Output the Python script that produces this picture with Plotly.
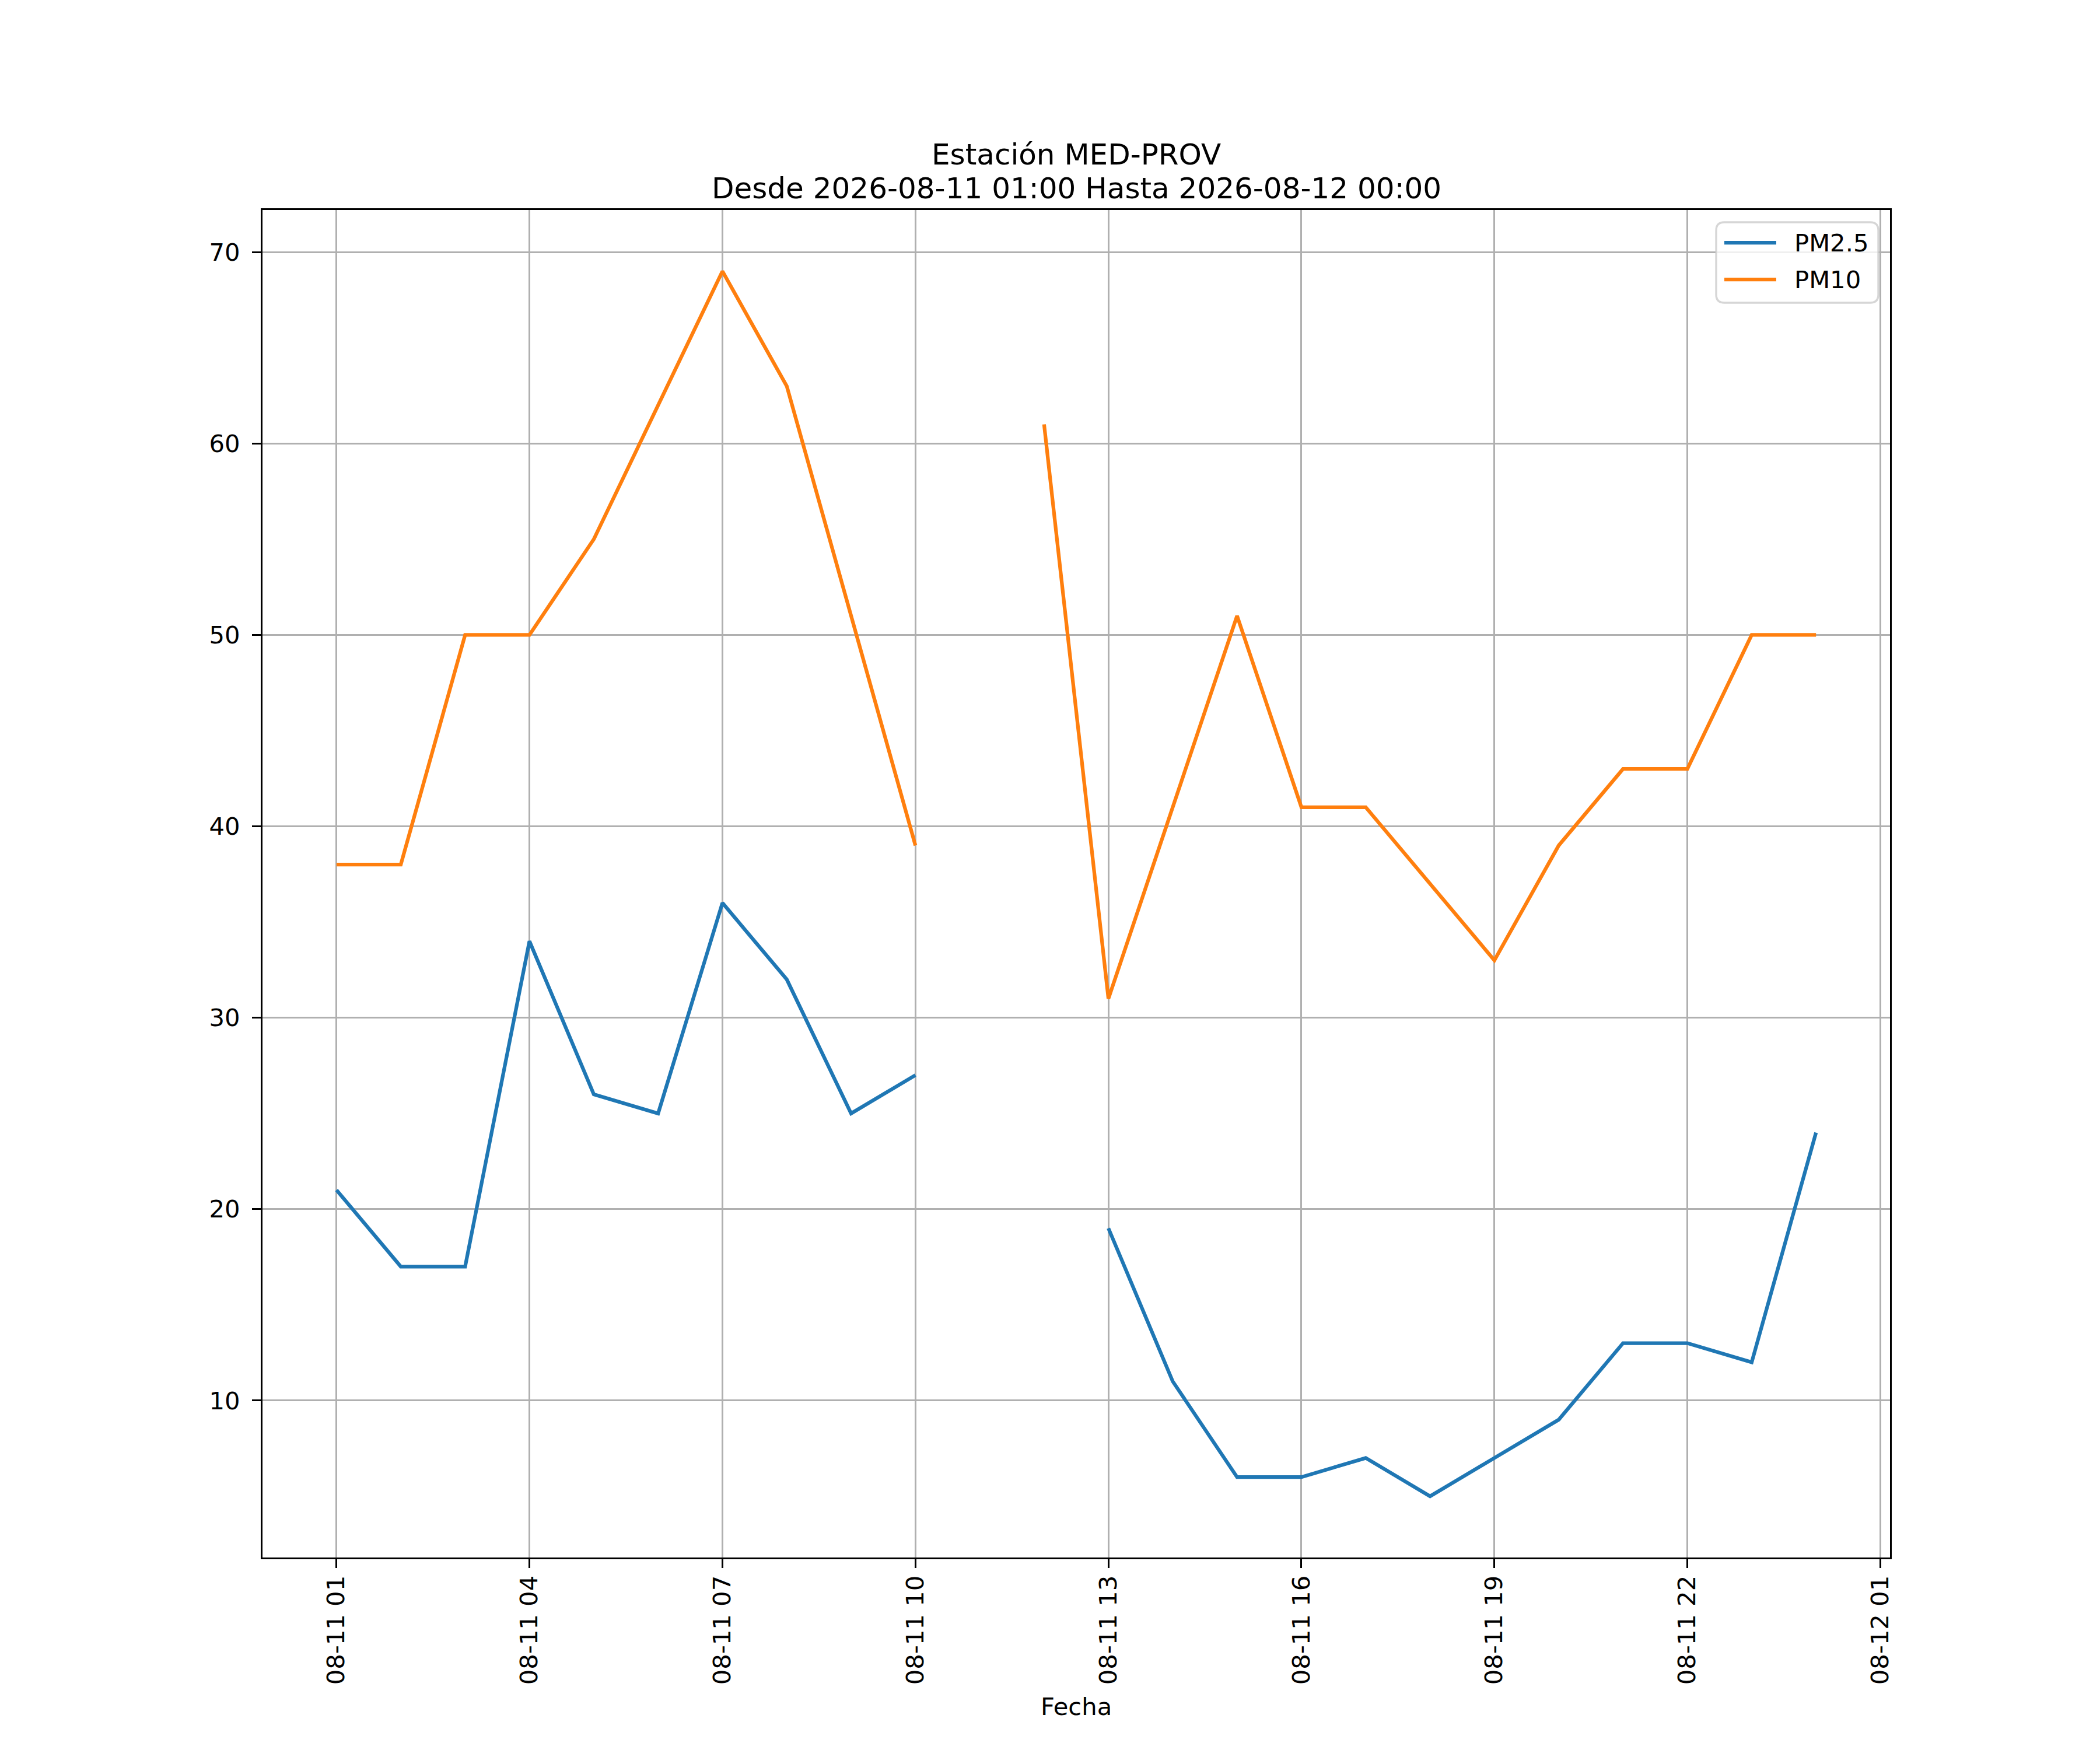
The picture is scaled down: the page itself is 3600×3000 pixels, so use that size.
import pandas as pd
import plotly.graph_objects as go

# --- DATA ---
horas = pd.date_range("2026-08-11 01:00", "2026-08-12 00:00", freq="h")
pm25 = [21, 17, 17, 34, 26, 25, 36, 32, 25, 27, None, None,
        19, 11, 6, 6, 7, 5, 7, 9, 13, 13, 12, 24]
pm10 = [38, 38, 50, 50, 55, 62, 69, 63, 51, 39, None, 61,
        31, 41, 51, 41, 41, 37, 33, 39, 43, 43, 50, 50]
series = [("PM2.5", pm25, "#1f77b4"), ("PM10", pm10, "#ff7f0e")]
titulo = ["Estación MED-PROV", "Desde 2026-08-11 01:00 Hasta 2026-08-12 00:00"]
y_ticks = [10, 20, 30, 40, 50, 60, 70]

# --- STYLE ---
FONT = "DejaVu Sans"
FS = 41.7  # 10pt at 300 dpi
LW = 3.33  # 0.8pt
GRID = "#b0b0b0"
W, H = 3600, 3000
L, R, T, B = 450, 3240, 360, 2670  # axes box in pixels


def px(x):
    return (x - L) / (R - L)


def py(y):
    return (B - y) / (B - T)


# matplotlib-like 5% margins
span = horas[-1] - horas[0]
x_range = [horas[0] - span * 0.05, horas[-1] + span * 0.05]
vals = [v for v in pm25 + pm10 if v is not None]
ypad = (max(vals) - min(vals)) * 0.05
y_range = [min(vals) - ypad, max(vals) + ypad]

fig = go.Figure()
for name, vals_s, color in series:
    fig.add_trace(go.Scatter(x=horas, y=vals_s, name=name, mode="lines",
                             line=dict(color=color, width=6.25)))

axis_common = dict(
    showline=True, linecolor="black", linewidth=LW, mirror=True,
    showgrid=True, gridcolor=GRID, gridwidth=LW,
    ticks="outside", ticklen=15, tickwidth=LW, tickcolor="black",
    tickfont=dict(family=FONT, size=FS, color="black"),
    zeroline=False,
)

fig.update_layout(
    width=W, height=H,
    margin=dict(l=L, r=W - R, t=T, b=H - B, autoexpand=False),
    paper_bgcolor="white", plot_bgcolor="white",
    font=dict(family=FONT, size=FS, color="black"),
    showlegend=False,
    xaxis=dict(axis_common, type="date", range=x_range,
               tick0="2026-08-11 01:00", dtick=3 * 3600 * 1000,
               tickformat="%m-%d %H", tickangle=-90, ticklabelstandoff=-4),
    yaxis=dict(axis_common, range=y_range, tickvals=y_ticks,
               ticklabelstandoff=12),
)

# legend box drawn like matplotlib's (rounded, long handles)
x0, x1, y0, y1, r = px(2942), px(3220), py(381), py(519), 14
rx, ry = r / (R - L), r / (B - T)
fig.add_shape(type="path", xref="paper", yref="paper",
              path=(f"M {x0 + rx},{y0} L {x1 - rx},{y0} Q {x1},{y0} {x1},{y0 - ry} "
                    f"L {x1},{y1 + ry} Q {x1},{y1} {x1 - rx},{y1} "
                    f"L {x0 + rx},{y1} Q {x0},{y1} {x0},{y1 + ry} "
                    f"L {x0},{y0 - ry} Q {x0},{y0} {x0 + rx},{y0} Z"),
              fillcolor="rgba(255,255,255,0.8)",
              line=dict(color="rgba(204,204,204,0.8)", width=LW), layer="above")
for i, (name, _, color) in enumerate(series):
    yy = py(416 + i * 63)
    fig.add_shape(type="line", xref="paper", yref="paper",
                  x0=px(2956), x1=px(3045), y0=yy, y1=yy,
                  line=dict(color=color, width=6.25), layer="above")
    fig.add_annotation(text=name, x=px(3074), y=yy, xref="paper", yref="paper",
                       xanchor="left", yanchor="middle", showarrow=False,
                       font=dict(family=FONT, size=FS))

# two-line title
for txt, ypos in zip(titulo, [265, 323]):
    fig.add_annotation(text=txt, x=0.5, y=py(ypos), xref="paper", yref="paper",
                       xanchor="center", yanchor="middle", showarrow=False,
                       font=dict(family=FONT, size=50))
fig.add_annotation(text="Fecha", x=0.5, y=-0.1104, xref="paper", yref="paper",
                   xanchor="center", yanchor="middle", showarrow=False,
                   font=dict(family=FONT, size=FS))

fig.write_html("out.html", config={"displayModeBar": False},
               post_script="document.body.style.margin='0';"
                           "document.body.style.padding='0';")
